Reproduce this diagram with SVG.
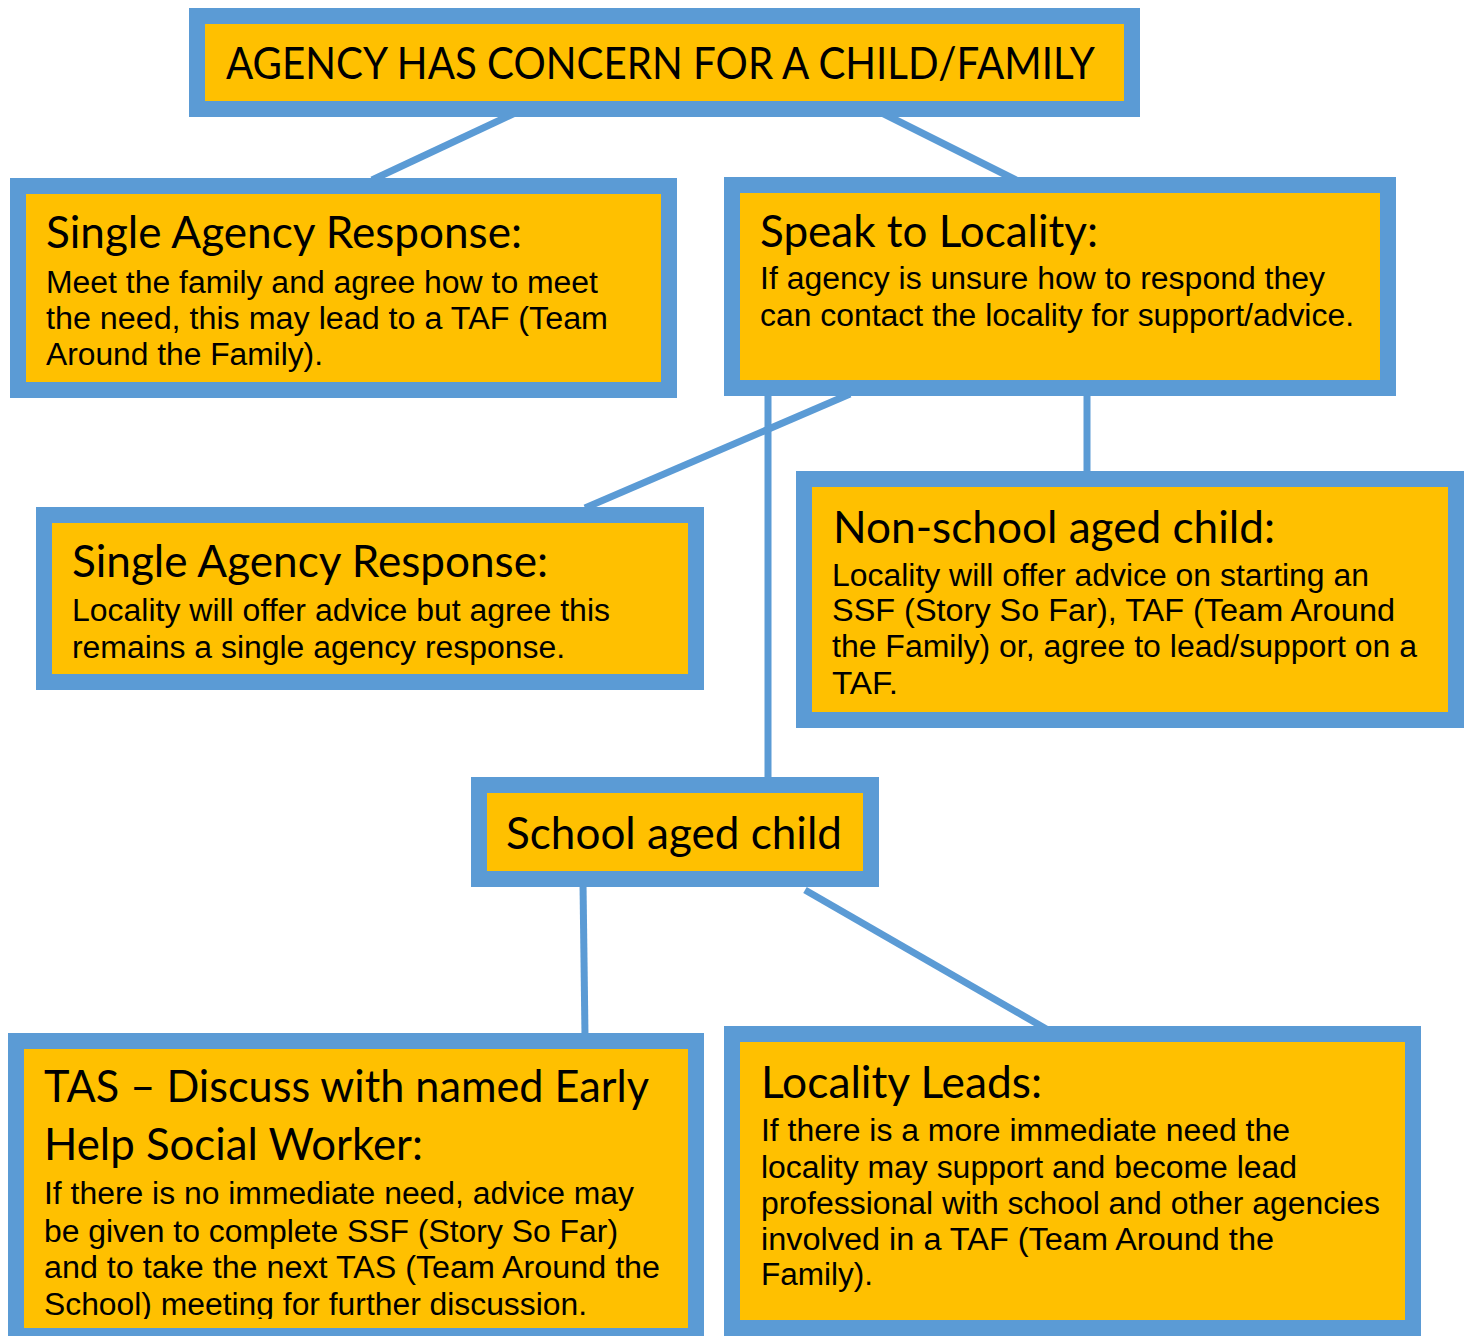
<svg xmlns="http://www.w3.org/2000/svg" width="1469" height="1336" viewBox="0 0 1469 1336">
<style>
.box{fill:#FFC000;stroke:#5B9BD5;stroke-width:16}
.conn{stroke:#5B9BD5;stroke-width:7;fill:none}
.t{font-family:Lato,"Open Sans","Noto Sans",sans-serif;font-size:44px;fill:#000}
.b{font-family:"Liberation Sans",Arial,sans-serif;font-size:31px;fill:#000}
</style>
<defs>
<clipPath id="tasclip"><rect x="24" y="1049" width="664" height="270"/></clipPath>
</defs>
<rect width="1469" height="1336" fill="#fff"/>
<g id="connectors">
<line class="conn" x1="515" y1="113" x2="372" y2="180"/>
<line class="conn" x1="882" y1="113" x2="1016" y2="180"/>
<line class="conn" x1="768" y1="392" x2="768" y2="780"/>
<line class="conn" x1="850" y1="394" x2="585" y2="508"/>
<line class="conn" x1="1087" y1="392" x2="1087" y2="474"/>
<line class="conn" x1="583" y1="883" x2="585" y2="1036"/>
<line class="conn" x1="805" y1="890" x2="1048" y2="1030"/>
</g>
<g id="n-top">
<rect class="box" x="197" y="16" width="935" height="93"/>
<text class="t" x="226" y="79" textLength="869" lengthAdjust="spacingAndGlyphs">AGENCY HAS CONCERN FOR A CHILD/FAMILY</text>
</g>
<g id="n-single1">
<rect class="box" x="18" y="186" width="651" height="204"/>
<text class="t" x="46" y="248" textLength="476" lengthAdjust="spacingAndGlyphs">Single Agency Response:</text>
<text class="b" x="46" y="293" textLength="552" lengthAdjust="spacingAndGlyphs">Meet the family and agree how to meet</text>
<text class="b" x="46" y="329" textLength="562" lengthAdjust="spacingAndGlyphs">the need, this may lead to a TAF (Team</text>
<text class="b" x="46" y="365" textLength="277" lengthAdjust="spacingAndGlyphs">Around the Family).</text>
</g>
<g id="n-speak">
<rect class="box" x="732" y="185" width="656" height="203"/>
<text class="t" x="760" y="247" textLength="338" lengthAdjust="spacingAndGlyphs">Speak to Locality:</text>
<text class="b" x="760" y="289" textLength="565" lengthAdjust="spacingAndGlyphs">If agency is unsure how to respond they</text>
<text class="b" x="760" y="326" textLength="594" lengthAdjust="spacingAndGlyphs">can contact the locality for support/advice.</text>
</g>
<g id="n-single2">
<rect class="box" x="44" y="515" width="652" height="167"/>
<text class="t" x="72" y="577" textLength="476" lengthAdjust="spacingAndGlyphs">Single Agency Response:</text>
<text class="b" x="72" y="621" textLength="538" lengthAdjust="spacingAndGlyphs">Locality will offer advice but agree this</text>
<text class="b" x="72" y="658" textLength="493" lengthAdjust="spacingAndGlyphs">remains a single agency response.</text>
</g>
<g id="n-nonschool">
<rect class="box" x="804" y="479" width="652" height="241"/>
<text class="t" x="833" y="543" textLength="442" lengthAdjust="spacingAndGlyphs">Non-school aged child:</text>
<text class="b" x="832" y="586" textLength="537" lengthAdjust="spacingAndGlyphs">Locality will offer advice on starting an</text>
<text class="b" x="832" y="621" textLength="563" lengthAdjust="spacingAndGlyphs">SSF (Story So Far), TAF (Team Around</text>
<text class="b" x="832" y="657" textLength="585" lengthAdjust="spacingAndGlyphs">the Family) or, agree to lead/support on a</text>
<text class="b" x="832" y="694" textLength="66" lengthAdjust="spacingAndGlyphs">TAF.</text>
</g>
<g id="n-school">
<rect class="box" x="479" y="785" width="392" height="94"/>
<text class="t" x="506" y="849" textLength="336" lengthAdjust="spacingAndGlyphs">School aged child</text>
</g>
<g id="n-tas">
<rect class="box" x="16" y="1041" width="680" height="295"/>
<g clip-path="url(#tasclip)">
<text class="t" x="44" y="1102" textLength="605" lengthAdjust="spacingAndGlyphs">TAS – Discuss with named Early</text>
<text class="t" x="44" y="1160" textLength="379" lengthAdjust="spacingAndGlyphs">Help Social Worker:</text>
<text class="b" x="44" y="1204" textLength="590" lengthAdjust="spacingAndGlyphs">If there is no immediate need, advice may</text>
<text class="b" x="44" y="1242" textLength="574" lengthAdjust="spacingAndGlyphs">be given to complete SSF (Story So Far)</text>
<text class="b" x="44" y="1278" textLength="616" lengthAdjust="spacingAndGlyphs">and to take the next TAS (Team Around the</text>
<text class="b" x="44" y="1315" textLength="543" lengthAdjust="spacingAndGlyphs">School) meeting for further discussion.</text>
</g>
</g>
<g id="n-leads">
<rect class="box" x="732" y="1034" width="681" height="294"/>
<text class="t" x="761" y="1098" textLength="281" lengthAdjust="spacingAndGlyphs">Locality Leads:</text>
<text class="b" x="761" y="1141" textLength="529" lengthAdjust="spacingAndGlyphs">If there is a more immediate need the</text>
<text class="b" x="761" y="1178" textLength="536" lengthAdjust="spacingAndGlyphs">locality may support and become lead</text>
<text class="b" x="761" y="1214" textLength="619" lengthAdjust="spacingAndGlyphs">professional with school and other agencies</text>
<text class="b" x="761" y="1250" textLength="513" lengthAdjust="spacingAndGlyphs">involved in a TAF (Team Around the</text>
<text class="b" x="761" y="1285" textLength="112" lengthAdjust="spacingAndGlyphs">Family).</text>
</g>
</svg>
